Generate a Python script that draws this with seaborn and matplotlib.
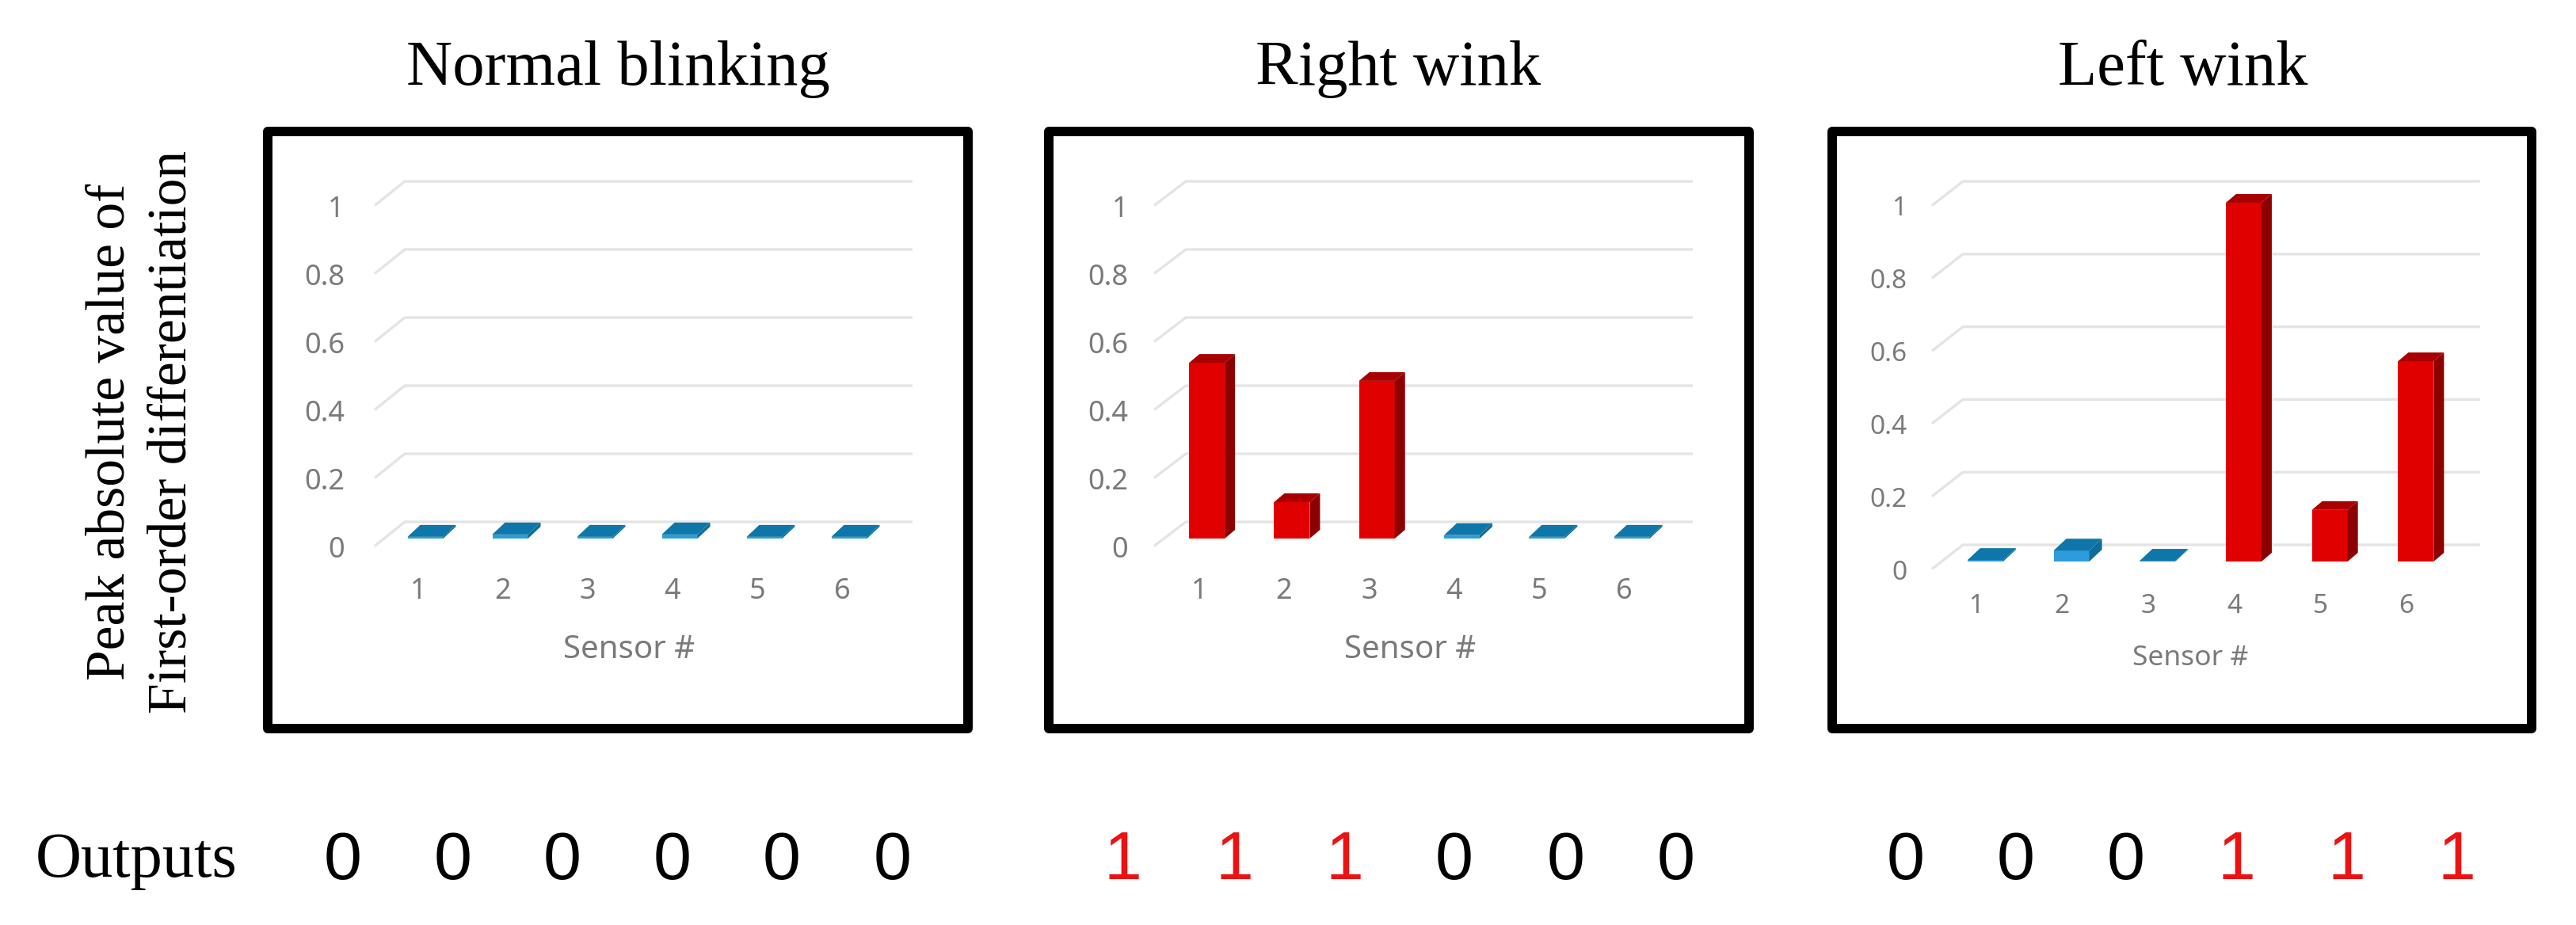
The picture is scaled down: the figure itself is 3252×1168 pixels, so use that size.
import pandas as pd
import matplotlib
matplotlib.use('Agg')
import matplotlib.pyplot as plt
import seaborn as sns
from matplotlib.patches import Polygon, Rectangle
from matplotlib.transforms import ScaledTranslation

W, H = 3252, 1168

# data
sensors = ['1', '2', '3', '4', '5', '6']
y_ticks = [0, 0.2, 0.4, 0.6, 0.8, 1]
y_tick_labels = ['0', '0.2', '0.4', '0.6', '0.8', '1']
titles = ['Normal blinking', 'Right wink', 'Left wink']
normal_values = [0.005, 0.012, 0.005, 0.012, 0.005, 0.005]
right_values = [0.516, 0.107, 0.463, 0.010, 0.005, 0.005]
left_values = [0.004, 0.030, 0.002, 0.987, 0.142, 0.551]
normal_outputs = [0, 0, 0, 0, 0, 0]
right_outputs = [1, 1, 1, 0, 0, 0]
left_outputs = [0, 0, 0, 1, 1, 1]

# colours
RED = '#e00000'
RED_SIDE = '#8c0000'
RED_TOP = '#a80000'
BLUE = '#2e9cdb'
BLUE_SIDE = '#0d6c9a'
BLUE_TOP = '#0e76a8'
GRID = '#e4e4e4'
LABEL = '#7a7a7a'

sns.set_theme(style='white')
plt.rcParams['font.family'] = ['Noto Sans', 'DejaVu Sans']
fig = plt.figure(figsize=(W / 100, H / 100), dpi=100)


def px_text(x, y, s, **kw):
    return fig.text(x / W, 1 - y / H, s, ha=kw.pop('ha', 'center'), va=kw.pop('va', 'center'), **kw)


def shift(labels, dx, dy):
    off = ScaledTranslation(dx / 100, -dy / 100, fig.dpi_scale_trans)
    for lab in labels:
        lab.set_transform(lab.get_transform() + off)


def draw_panel(values, outputs, title, title_x, box, left, unit_x, base, unit_y, grid_x, fs, xlab_fs,
               xlab_pos, tick_pad, xtick_pad, xshift, digit_x):
    # black frame
    x0, x1 = box
    fig.add_artist(Rectangle((x0 / W, 1 - 920 / H), (x1 - x0) / W, 754 / H, transform=fig.transFigure,
                             fill=False, ec='black', lw=8.6, joinstyle='round'))

    ax = fig.add_axes([left / W, 1 - base / H, 6 * unit_x / W, unit_y / H])
    ax.patch.set_alpha(0)
    df = pd.DataFrame({'sensor': sensors, 'value': values, 'output': outputs})
    sns.barplot(data=df, x='sensor', y='value', hue='output', palette={0: BLUE, 1: RED}, dodge=False,
                width=45 / unit_x, saturation=1, legend=False, ax=ax, zorder=3, linewidth=0)
    ax.set_xlim(-0.5, 5.5)
    ax.set_ylim(0, 1)

    # receding gridlines, from the axis ticks
    for v in y_ticks:
        xs = [(grid_x[0] - left) / unit_x - 0.5, (grid_x[1] - left) / unit_x - 0.5, (grid_x[2] - left) / unit_x - 0.5]
        ys = [v - 9.5 / unit_y, v + 21 / unit_y, v + 21 / unit_y]
        ax.plot(xs, ys, color=GRID, lw=2.4, clip_on=False, zorder=1, solid_capstyle='butt')

    # 3D depth on every bar
    for p in list(ax.patches):
        red = p.get_facecolor()[0] > 0.6
        bx, bw, bh = p.get_x(), p.get_width(), p.get_height()
        if bh <= 0:
            continue
        dx = (13 if red else 16) / unit_x
        dy = (11 if red else 15) / unit_y
        side = Polygon([(bx + bw, 0), (bx + bw + dx, dy), (bx + bw + dx, bh + dy), (bx + bw, bh)],
                       fc=RED_SIDE if red else BLUE_SIDE, ec='none', zorder=3, clip_on=False)
        top = Polygon([(bx, bh), (bx + dx, bh + dy), (bx + bw + dx, bh + dy), (bx + bw, bh)],
                      fc=RED_TOP if red else BLUE_TOP, ec='none', zorder=3, clip_on=False)
        ax.add_patch(side)
        ax.add_patch(top)

    sns.despine(ax=ax, left=True, bottom=True, top=True, right=True)
    ax.set_xticks(range(6))
    ax.set_xticklabels(sensors)
    ax.set_yticks(y_ticks)
    ax.set_yticklabels(y_tick_labels)
    ax.tick_params(axis='both', length=0, labelcolor=LABEL, labelsize=fs)
    ax.tick_params(axis='y', pad=tick_pad)
    ax.tick_params(axis='x', pad=xtick_pad)
    shift(ax.get_xticklabels(), xshift, 0)
    shift(ax.get_yticklabels(), 0, 10)
    ax.set_ylabel('')
    ax.set_xlabel('')
    px_text(xlab_pos[0], xlab_pos[1], 'Sensor #', color=LABEL, fontsize=xlab_fs)

    px_text(title_x, 87, title, family='Liberation Serif', fontsize=58, color='black')

    for x, o in zip(digit_x, outputs):
        px_text(x, 1088, str(o), family='Liberation Sans', fontsize=62, color='#ee1111' if o else 'black')


draw_panel(normal_values, normal_outputs, titles[0], 780, (338, 1222), 483.5, 107, 680, 430, (473, 511, 1152), 26, 29,
           (794, 821), 35, 35, -9, [433, 572, 710, 849, 987, 1127])
draw_panel(right_values, right_outputs, titles[1], 1765, (1324, 2208), 1470, 107.3, 680, 430, (1457, 1497, 2137), 26, 29,
           (1780, 821), 33, 35, -10, [1417, 1558, 1697, 1836, 1977, 2116])
draw_panel(left_values, left_outputs, titles[2], 2756, (2313, 3196), 2452, 108.7, 709, 459, (2439, 2478, 3131), 24, 25.5,
           (2765, 831), 32, 29, -12, [2406, 2545, 2684, 2823, 2962, 3101])

px_text(179, 545, 'Peak absolute value of\nFirst-order differentiation', family='Liberation Serif',
        fontsize=50, rotation=90, linespacing=1.27, color='black', multialignment='center')
px_text(172, 1088, 'Outputs', family='Liberation Serif', fontsize=58, color='black')

plt.savefig('out.png', dpi=100, facecolor='white')
